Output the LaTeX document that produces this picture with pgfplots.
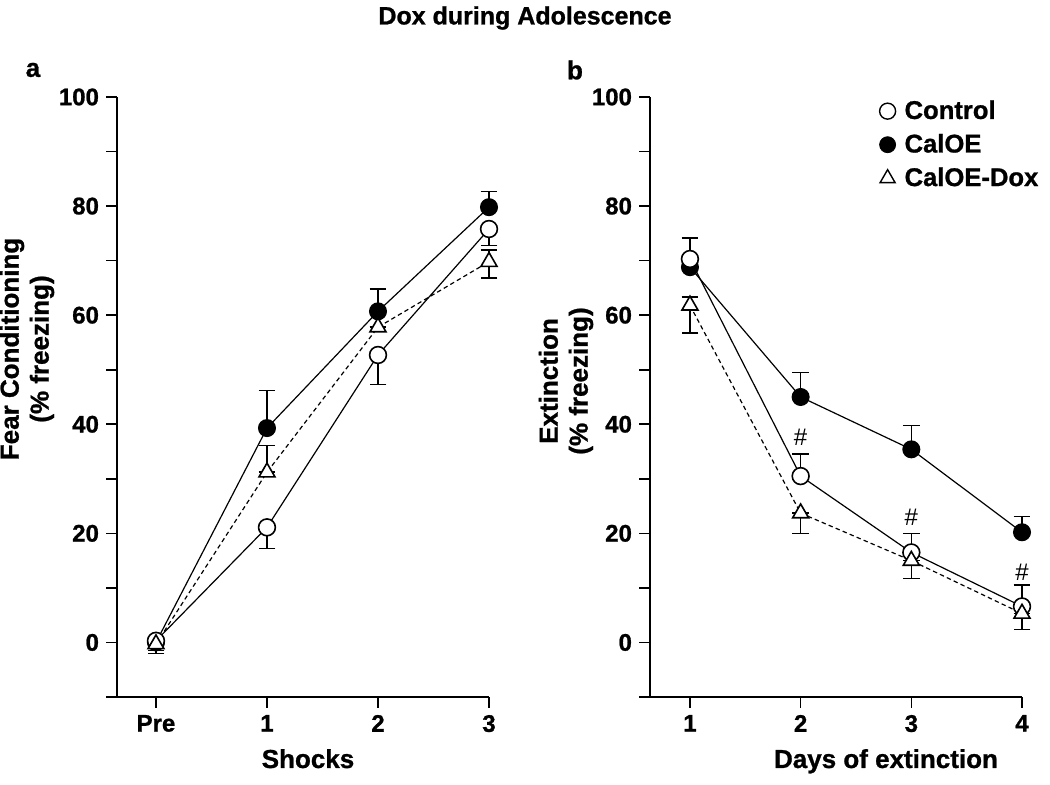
\documentclass[border=0pt]{standalone}
\usepackage{fontspec}
\setmainfont{Liberation Sans}[BoldFeatures={FakeBold=1}]
\usepackage{pgfplots}
\usepackage{pgfplotstable}
\pgfplotsset{compat=1.18}

% ---- data (left: x=0 is "Pre") ----
\pgfplotstableread{
x y ep em
0 0.3 0 1.8
1 21.1 0 3.9
2 52.7 0 5.4
3 75.8 0 3.0
}\ctrlA
\pgfplotstableread{
x y ep em
0 0.0 0 0
1 39.3 6.9 0
2 60.7 4.1 0
3 79.8 2.9 0
}\caloeA
\pgfplotstableread{
x y ep em
0 -0.3 0 1.7
1 31.2 4.9 0
2 57.8 0 0
3 69.8 2.2 3.0
}\doxA
% ---- data (right) ----
\pgfplotstableread{
x y ep em
1 70.3 3.8 0
2 30.5 4.0 0
3 16.5 3.5 0
4 6.6 3.9 0
}\ctrlB
\pgfplotstableread{
x y ep em
1 68.8 0 0
2 45.0 4.5 0
3 35.4 4.4 0
4 20.2 2.9 0
}\caloeB
\pgfplotstableread{
x y ep em
1 61.8 1.5 5.1
2 23.7 0 3.7
3 15.0 0 3.3
4 5.3 0 2.9
}\doxB

\pgfplotsset{
  panel/.style={
    scale only axis, width=186pt, height=300pt,
    axis x line*=bottom, axis y line*=left,
    ymin=-10, ymax=100,
    ytick={0,20,40,60,80,100}, yticklabels={0,20,40,60,80,100},
    minor ytick={-10,10,30,50,70,90},
    tick align=outside, major tick length=5.5pt, minor tick length=5.5pt,
    axis line style={line width=1pt, black},
    every tick/.style={black, line width=0.8pt},
    tick label style={font=\fontsize{12}{12}\selectfont\bfseries},
    clip=false,
  },
  ebar/.style={
    error bars/.cd, y dir=both, y explicit,
    error mark options={rotate=90, mark size=4.2pt, line width=0.8pt, black, solid},
    error bar style={line width=0.8pt, black, solid},
  },
  ctrl/.style={black, line width=0.6pt, solid, mark=*, mark size=4.2pt,
    mark options={fill=white, line width=0.8pt, solid}, ebar},
  caloe/.style={black, line width=0.6pt, solid, mark=*, mark size=4.2pt,
    mark options={fill=black, solid}, ebar},
  dox/.style={black, line width=0.6pt, dash pattern=on 2.2pt off 1.6pt, mark=triangle*, mark size=4.6pt,
    mark options={fill=white, line width=0.8pt, solid}, ebar},
}

\begin{document}
\begin{tikzpicture}
\useasboundingbox (0,0) rectangle (525pt,392.5pt);

% ---------- panel a ----------
\begin{axis}[panel, at={(58.5pt,44pt)}, anchor=south west,
  xmin=-0.351, xmax=3, xtick={0,1,2,3}, xticklabels={Pre,1,2,3}]
\addplot[caloe] table[x=x,y=y,y error plus=ep,y error minus=em]{\caloeA};
\addplot[ctrl] table[x=x,y=y,y error plus=ep,y error minus=em]{\ctrlA};
\addplot[dox] table[x=x,y=y,y error plus=ep,y error minus=em]{\doxA};
\end{axis}

% ---------- panel b ----------
\begin{axis}[panel, at={(325pt,44pt)}, anchor=south west,
  xmin=0.639, xmax=4, xtick={1,2,3,4}, xticklabels={1,2,3,4},
  legend style={at={(rel axis cs:0.6,1.0)}, anchor=north west, yshift=2.5pt, draw=none, fill=none,
    font=\fontsize{12.8}{14}\selectfont\bfseries, row sep=2pt,
    /tikz/every odd column/.append style={column sep=2.5pt},
    /tikz/every even column/.append style={column sep=1pt}},
  legend cell align=left]
\addlegendimage{only marks, mark=*, mark size=4pt, mark options={fill=white, draw=black, line width=0.7pt}}
\addlegendentry{Control}
\addlegendimage{only marks, mark=*, mark size=4pt, mark options={fill=black, draw=black}}
\addlegendentry{CalOE}
\addlegendimage{only marks, mark=triangle*, mark size=4.3pt, mark options={fill=white, draw=black, line width=0.7pt}}
\addlegendentry{CalOE-Dox}
\addplot[caloe] table[x=x,y=y,y error plus=ep,y error minus=em]{\caloeB};
\addplot[ctrl] table[x=x,y=y,y error plus=ep,y error minus=em]{\ctrlB};
\addplot[dox] table[x=x,y=y,y error plus=ep,y error minus=em]{\doxB};
\node[font=\fontsize{12}{12}\selectfont] at (axis cs:2,37.6) {\#};
\node[font=\fontsize{12}{12}\selectfont] at (axis cs:3,22.9) {\#};
\node[font=\fontsize{12}{12}\selectfont] at (axis cs:4,12.8) {\#};
\end{axis}

% ---------- texts ----------
\node[font=\fontsize{12.5}{13}\selectfont\bfseries] at (262.5pt,383.5pt) {Dox during Adolescence};
\node[font=\fontsize{13}{13}\selectfont\bfseries] at (16.5pt,357.5pt) {a};
\node[font=\fontsize{13}{13}\selectfont\bfseries] at (287.5pt,357.5pt) {b};
\node[font=\fontsize{13}{13}\selectfont\bfseries, anchor=base] at (154pt,8.5pt) {Shocks};
\node[font=\fontsize{13}{13}\selectfont\bfseries, anchor=base] at (443pt,8.5pt) {Days of extinction};
\node[font=\fontsize{13}{15}\selectfont\bfseries, rotate=90, align=center] at (13.5pt,218pt) {Fear Conditioning\\(\% freezing)};
\node[font=\fontsize{13}{15}\selectfont\bfseries, rotate=90, align=center] at (283pt,202pt) {Extinction\\(\% freezing)};
\end{tikzpicture}
\end{document}
